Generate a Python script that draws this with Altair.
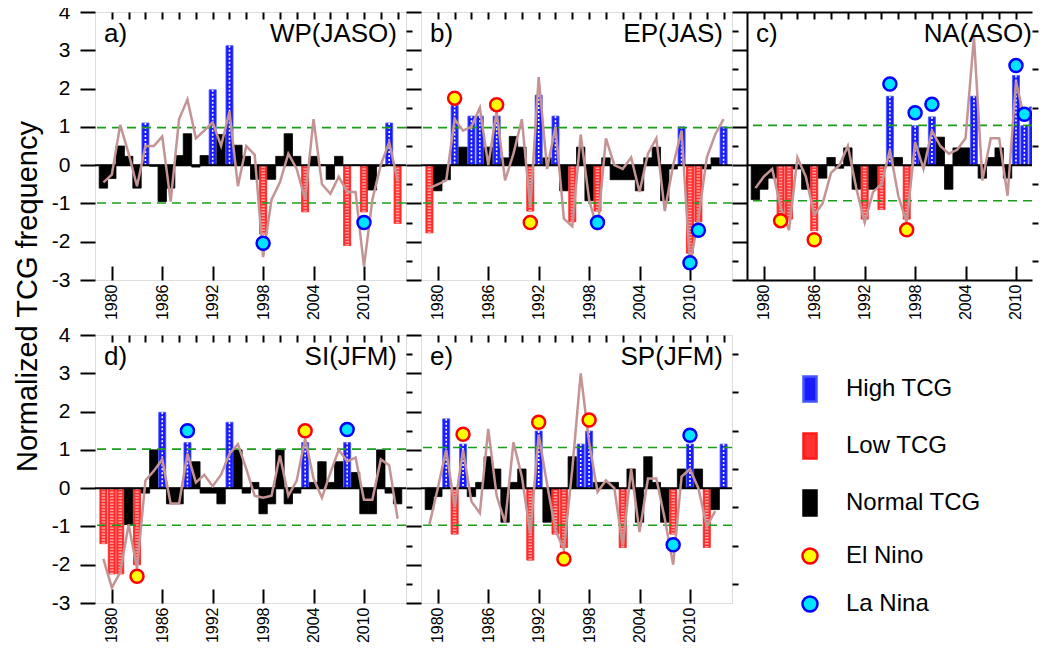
import altair as alt
import pandas as pd

FONT = "Liberation Sans"
YEARS = list(range(1979, 2015))
MAJOR_X = [1980, 1986, 1992, 1998, 2004, 2010]
MINOR_X = list(range(1978, 2016, 2))
MAJOR_Y = [-3, -2, -1, 0, 1, 2, 3, 4]
MINOR_Y = [-2.5, -1.5, -0.5, 0.5, 1.5, 2.5, 3.5]

KINDS = ["High TCG", "Low TCG", "Normal TCG", "El Nino", "La Nina"]
FILLS = ["#1a1aff", "#ff3030", "#000000", "#ffff00", "#00e5ff"]
STROKES = ["#4455ff", "#ff1a1a", "#000000", "#ff0000", "#0000ff"]
RECT = "M-0.52,-1L0.52,-1L0.52,1L-0.52,1Z"
CIRC = "M0.6,0A0.6,0.6,0,1,1,-0.6,0A0.6,0.6,0,1,1,0.6,0Z"
SHAPES = [RECT, RECT, RECT, CIRC, CIRC]

# ---- a) WP(JASO)
WP_OBS = [-0.6, -0.35, 0.5, 0.23, -0.6, 1.1, -0.03, -0.95, -0.6, 0.25, 0.82, -0.05,
          0.25, 1.97, 0.8, 3.12, 0.52, 0.23, -0.37, -1.8, -0.37, 0.23, 0.82, 0.23,
          -1.22, 0.23, 0.0, -0.37, 0.23, -2.1, 0.0, -1.22, -0.65, -0.03, 1.1, -1.52]
WP_LINE = [-0.45, -0.25, 1.05, 0.3, -0.55, 0.5, 0.5, 0.75, -0.95, 1.2, 1.72, 0.7,
           0.9, 1.12, 0.5, 1.4, -0.55, 0.5, 0.27, -2.4, -0.9, -0.45, 0.3, -0.1,
           -0.9, 1.2, -0.5, -0.75, -0.3, -0.7, -0.7, -2.65, -0.9, 0.0, 0.6, -0.4]
WP_HIGH = [1984, 1992, 1994, 2013]
WP_LOW = [1998, 2003, 2008, 2010, 2014]
WP_ENSO_YEAR = [1998, 2010]
WP_ENSO_VAL = [-2.04, -1.5]
WP_ENSO_KIND = ["La Nina", "La Nina"]
WP_THR = [0.98, -0.99]

# ---- b) EP(JAS)
EP_OBS = [-1.77, -0.67, -0.38, 1.56, 0.47, 1.28, 1.28, 0.47, 1.28, 0.19, 0.75, 0.47,
          -1.2, 1.83, 0.19, 1.28, -0.67, -1.48, 0.47, -0.93, -1.2, 0.19, -0.38, -0.38,
          -0.38, -0.67, 0.19, 0.47, -0.93, -0.1, 1.0, -2.3, -1.48, -0.1, 0.19, 1.0]
EP_LINE = [-0.6, -0.5, -0.4, 1.2, 0.9, 1.0, 1.5, 0.0, 1.4, -0.4, 0.3, 1.2,
           -1.1, 2.3, -0.1, 1.0, -1.4, -1.6, 0.8, -0.9, -1.7, 0.7, 0.0, -0.1,
           0.2, -0.7, 0.3, 0.7, -1.2, 0.0, 0.9, -2.6, -1.4, 0.2, 0.8, 1.2]
EP_HIGH = [1982, 1984, 1985, 1987, 1992, 1994, 2009, 2014]
EP_LOW = [1979, 1991, 1996, 1999, 2010, 2011]
EP_ENSO_YEAR = [1982, 1987, 1991, 1999, 2010, 2011]
EP_ENSO_VAL = [1.75, 1.58, -1.5, -1.5, -2.55, -1.7]
EP_ENSO_KIND = ["El Nino", "El Nino", "El Nino", "La Nina", "La Nina", "La Nina"]
EP_THR = [0.98, -0.99]

# ---- c) NA(ASO)
NA_OBS = [-0.9, -0.63, -0.34, -1.41, -1.41, -0.1, -0.63, -1.71, -0.34, 0.2, -0.08, 0.45,
          -0.63, -1.41, -0.63, -1.16, 1.8, 0.2, -1.41, 1.03, 0.45, 1.26, 0.73, -0.63,
          0.45, 0.45, 1.8, -0.34, 0.2, 0.45, -0.34, 2.34, 1.03, 1.52, -0.08, -0.34]
NA_LINE = [-0.6, -0.3, -0.1, -1.1, -1.7, 0.2, -0.3, -1.3, -1.0, -0.2, 0.0, 0.5,
           -0.6, -1.5, -0.7, -0.5, 0.4, -0.8, -1.5, 0.6, -0.1, 0.9, 0.5, 0.3,
           0.4, 0.7, 3.35, -0.4, 0.7, 0.7, -0.8, 2.2, 1.2, 1.5, 0.5, -0.9]
NA_HIGH = [1995, 1998, 2000, 2005, 2010, 2011, 2012]
NA_LOW = [1982, 1983, 1986, 1992, 1994, 1997]
NA_ENSO_YEAR = [1982, 1986, 1997, 1995, 1998, 2000, 2010, 2011]
NA_ENSO_VAL = [-1.45, -1.95, -1.69, 2.12, 1.37, 1.59, 2.6, 1.33]
NA_ENSO_KIND = ["El Nino", "El Nino", "El Nino", "La Nina", "La Nina", "La Nina", "La Nina", "La Nina"]
NA_THR = [1.04, -0.93]

# ---- d) SI(JFM)
SI_OBS = [-1.45, -2.24, -2.24, -0.95, -2.0, -0.13, 1.0, 1.98, -0.41, -0.41, 1.19, 0.69,
          -0.13, -0.13, -0.41, 1.72, 1.0, -0.13, 0.15, -0.67, -0.41, 1.0, -0.41, -0.13,
          1.19, 0.15, 0.69, 0.15, 0.69, 1.19, 0.41, -0.67, -0.67, 1.0, -0.13, -0.41]
SI_LINE = [-1.85, -2.6, -2.2, -0.95, -2.1, 0.2, 0.45, 0.75, -0.4, -0.4, 0.9, 0.15,
           0.35, 0.05, 0.35, 0.9, 1.15, 0.5, -0.2, -0.25, -0.2, 0.85, -0.2, 0.2,
           1.3, 0.25, -0.25, 0.4, 1.0, 0.7, 0.8, -0.3, -0.3, 0.75, 0.6, -0.8]
SI_HIGH = [1986, 1989, 1994, 2003, 2008]
SI_LOW = [1979, 1980, 1981, 1983]
SI_ENSO_YEAR = [1983, 2003, 1989, 2008]
SI_ENSO_VAL = [-2.3, 1.5, 1.5, 1.53]
SI_ENSO_KIND = ["El Nino", "El Nino", "La Nina", "La Nina"]
SI_THR = [1.02, -0.97]

# ---- e) SP(JFM)
SP_OBS = [-0.56, -0.22, 1.81, -1.2, 1.15, -0.22, 0.15, 0.82, 0.5, -0.89, 0.15, 0.5,
          -1.88, 1.49, -0.89, -1.2, -1.55, 0.82, 1.15, 1.49, 0.15, 0.15, 0.15, -1.55,
          0.5, -0.89, 0.82, 0.15, -0.89, -1.2, 0.5, 1.15, 0.5, -1.55, -0.56, 1.15]
SP_LINE = [-0.95, 0.0, 1.0, -0.5, 1.0, -0.35, -0.65, 1.55, -0.2, -0.9, 1.2, 0.3,
           -1.2, 1.4, 0.1, -1.1, -1.6, 0.5, 3.0, 1.2, -0.1, 0.2, 0.0, -1.5,
           0.5, -1.15, 0.25, 0.25, -0.8, -2.0, 0.3, 0.5, 0.0, -1.0, -0.6, None]
SP_HIGH = [1981, 1983, 1992, 1997, 1998, 2010, 2014]
SP_LOW = [1982, 1991, 1994, 1995, 2002, 2008, 2012]
SP_ENSO_YEAR = [1983, 1992, 1995, 1998, 2008, 2010]
SP_ENSO_VAL = [1.41, 1.72, -1.85, 1.78, -1.48, 1.38]
SP_ENSO_KIND = ["El Nino", "El Nino", "El Nino", "El Nino", "La Nina", "La Nina"]
SP_THR = [1.06, -0.97]

PANELS = [
    ("a)", "WP(JASO)", WP_OBS, WP_LINE, WP_HIGH, WP_LOW, WP_ENSO_YEAR, WP_ENSO_VAL, WP_ENSO_KIND, WP_THR),
    ("b)", "EP(JAS)", EP_OBS, EP_LINE, EP_HIGH, EP_LOW, EP_ENSO_YEAR, EP_ENSO_VAL, EP_ENSO_KIND, EP_THR),
    ("c)", "NA(ASO)", NA_OBS, NA_LINE, NA_HIGH, NA_LOW, NA_ENSO_YEAR, NA_ENSO_VAL, NA_ENSO_KIND, NA_THR),
    ("d)", "SI(JFM)", SI_OBS, SI_LINE, SI_HIGH, SI_LOW, SI_ENSO_YEAR, SI_ENSO_VAL, SI_ENSO_KIND, SI_THR),
    ("e)", "SP(JFM)", SP_OBS, SP_LINE, SP_HIGH, SP_LOW, SP_ENSO_YEAR, SP_ENSO_VAL, SP_ENSO_KIND, SP_THR),
]

W, H = 311, 268
PX_PER_YEAR = W / 37.0

LEG = alt.Legend(title=None, orient="none", legendX=701, legendY=363, direction="vertical",
                 labelFontSize=24, labelFont=FONT, labelColor="black", symbolSize=625,
                 symbolStrokeWidth=2.5, symbolOpacity=1, rowPadding=21, labelOffset=22,
                 labelLimit=400, padding=0)


def kind_enc(cls):
    rng = {"fill": FILLS, "stroke": STROKES, "shape": SHAPES}
    key = {alt.Fill: "fill", alt.Stroke: "stroke", alt.Shape: "shape"}[cls]
    return cls("kind:N", scale=alt.Scale(domain=KINDS, range=rng[key]), legend=LEG)


def border_axis(orient):
    return alt.Axis(orient=orient, ticks=False, labels=False, domain=True, domainWidth=2,
                    domainColor="black", grid=False, title=None)


def panel(spec, first_col, with_title, width=W, open_right=False, name_x=302):
    tag, name, obs, line, high, low, eyear, evals, ekind, thr = spec
    kinds = ["High TCG" if y in high else ("Low TCG" if y in low else "Normal TCG") for y in YEARS]
    df = pd.DataFrame({"year": YEARS, "val": obs, "line": line, "kind": kinds})
    base = alt.Chart(df)
    xmax = 1978 + width / PX_PER_YEAR
    xs = alt.Scale(domain=[1978, xmax], nice=False, zero=False)
    ys = alt.Scale(domain=[-3, 4], nice=False, zero=False)

    xmajor = alt.Axis(values=MAJOR_X, format="d", labelAngle=-90, labelFontSize=16,
                      labelPadding=4, tickSize=14, tickWidth=2, tickColor="black",
                      offset=-14, domain=False, grid=False, title=None,
                      labelColor="black", labelFlush=False, labelOverlap=False)
    xminor = alt.Axis(values=[v for v in MINOR_X if 1978 < v < xmax], labels=False,
                      tickSize=7, tickWidth=2,
                      tickColor="black", offset=-7, domain=False, grid=False, title=None)
    yargs = dict(values=MAJOR_Y, tickSize=15, tickWidth=2, tickColor="black",
                 labels=first_col, labelFontSize=21, labelPadding=10, labelColor="black",
                 labelExpr="datum.value + ''",
                 domain=open_right, domainWidth=2, domainColor="black",
                 grid=False, labelOverlap=False, labelFlush=False)
    if with_title:
        yargs.update(title="Normalized TCG frequency", titleFontSize=29,
                     titleFontWeight="normal", titleY=284, titlePadding=9,
                     titleColor="black")
    else:
        yargs.update(title=None)
    ymajor = alt.Axis(**yargs)
    yminor = alt.Axis(values=MINOR_Y, labels=False, tickSize=6, tickWidth=2,
                      tickColor="black", domain=False, grid=False, title=None)

    bars = base.transform_calculate(
        half="datum.kind == 'Normal TCG' ? 0.5 : 0.42"
    ).transform_calculate(
        x0="datum.year - datum.half", x1="datum.year + datum.half"
    ).mark_bar(strokeWidth=0.8, clip=True).encode(
        x=alt.X("x0:Q", scale=xs, axis=xmajor), x2="x1:Q",
        y=alt.Y("val:Q", scale=ys, axis=ymajor), y2=alt.datum(0),
        fill=kind_enc(alt.Fill), stroke=kind_enc(alt.Stroke),
    )
    hatch_h = base.transform_filter("datum.kind == 'High TCG'").mark_rule(
        color="white", strokeWidth=1.6, strokeDash=[2, 2], clip=True
    ).encode(x=alt.X("year:Q", scale=xs, axis=border_axis("bottom") if open_right else None),
             y=alt.Y("val:Q", scale=ys, axis=None), y2=alt.datum(0))
    hatch_l = base.transform_filter("datum.kind == 'Low TCG'").mark_rule(
        color="white", strokeWidth=3.5, strokeDash=[1.5, 1.5], opacity=0.55, clip=True
    ).encode(x=alt.X("year:Q", scale=xs, axis=None),
             y=alt.Y("val:Q", scale=ys, axis=None), y2=alt.datum(0))

    zero = alt.Chart(pd.DataFrame({"v": [0]})).mark_rule(color="black", strokeWidth=2).encode(
        y=alt.Y("v:Q", scale=ys, axis=None))
    thr_rules = alt.Chart(pd.DataFrame({"v": thr})).mark_rule(
        color="#1a9e1a", strokeWidth=1.6, strokeDash=[9, 6]).encode(
        y=alt.Y("v:Q", scale=ys, axis=None))

    brown = base.mark_line(color="#c49494", strokeWidth=2.5, clip=True).encode(
        x=alt.X("year:Q", scale=xs, axis=xminor),
        y=alt.Y("line:Q", scale=ys, axis=yminor))

    edf = pd.DataFrame({"year": eyear, "val": evals, "kind": ekind})
    pts = alt.Chart(edf).mark_point(filled=True, size=470, strokeWidth=2.5, opacity=1,
                                    clip=True).encode(
        x=alt.X("year:Q", scale=xs, axis=border_axis("top") if open_right else None),
        y=alt.Y("val:Q", scale=ys, axis=None),
        fill=kind_enc(alt.Fill), stroke=kind_enc(alt.Stroke), shape=kind_enc(alt.Shape))

    tdf = pd.DataFrame({"tag": [tag], "name": [name]})
    t1 = alt.Chart(tdf).mark_text(align="left", baseline="alphabetic", fontSize=26,
                                  font=FONT, color="black").encode(
        text="tag:N", x=alt.value(9), y=alt.value(30))
    t2 = alt.Chart(tdf).mark_text(align="right", baseline="alphabetic", fontSize=26,
                                  font=FONT, color="black").encode(
        text="name:N", x=alt.value(name_x), y=alt.value(30))

    lay = alt.layer(bars, hatch_h, hatch_l, zero, thr_rules, brown, pts, t1, t2).resolve_scale(
        x="shared", y="shared").resolve_axis(x="independent", y="independent")
    if open_right:
        return lay.properties(width=width, height=H,
                              view=alt.ViewBackground(stroke="transparent"))
    return lay.properties(width=width, height=H)


pa = panel(PANELS[0], True, True)
pb = panel(PANELS[1], False, False)
pc = panel(PANELS[2], False, False, width=285, open_right=True, name_x=285)
pd_ = panel(PANELS[3], True, False)
pe = panel(PANELS[4], False, False)

chart = alt.concat(pa, pb, pc, pd_, pe, columns=3, bounds="flush",
                   spacing={"row": 55, "column": 15}).properties(
    padding={"left": 4, "top": -8, "right": 0, "bottom": 0}
).configure_view(stroke="black", strokeWidth=2).configure_axis(
    labelFont=FONT, titleFont=FONT
).configure(font=FONT)

chart.save("out.html", embed_options={"renderer": "svg", "actions": False})
